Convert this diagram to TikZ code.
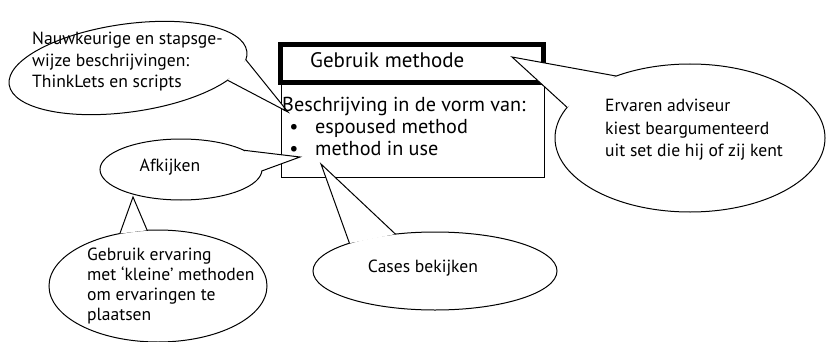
\documentclass[tikz,border=0pt]{standalone}
\usepackage{fontspec}
\setmainfont{PT Sans}
\usetikzlibrary{shapes.geometric}
\begin{document}
\begin{tikzpicture}[x=1pt,y=-1pt,
	bubble/.style={ellipse,draw,fill=white,line width=1pt,inner sep=0pt,outer sep=0pt},
	tail/.style={line width=1pt},
	bubbletext/.style={inner sep=0pt,align=left,anchor=north west,font=\fontsize{17.6}{21.5}\selectfont},
	boxtext/.style={inner sep=0pt,anchor=base west,font=\fontsize{20.2}{23}\selectfont}]
	\useasboundingbox (0,0) rectangle (826,342);
	% methode box
	\draw[line width=1pt] (281,83) rectangle (544,177);
	\draw[line width=5pt] (280,45) rectangle (543,83);
	% bubbles
	\node[bubble,rotate=8,minimum width=240pt,minimum height=88pt] (nauw) at (128,68) {};
	\node[bubble,minimum width=162pt,minimum height=61pt] (afkijken) at (181,169.5) {};
	\node[bubble,minimum width=218pt,minimum height=112pt] (ervaring) at (158,286) {};
	\node[bubble,minimum width=244pt,minimum height=78pt] (cases) at (435,271) {};
	\node[bubble,minimum width=270pt,minimum height=148pt] (adviseur) at (690,138) {};
	\coordinate (Tnauw) at (288,112);
	\coordinate (Tafkijken) at (300,157);
	\coordinate (Tervaring) at (133,197);
	\coordinate (Tcases) at (321,164);
	\coordinate (Tadviseur) at (512,57);
	\fill[white] (nauw.-4.6) -- (Tnauw) -- (nauw.-15.2) -- cycle;
	\draw[tail] (nauw.-4.6) -- (Tnauw) -- (nauw.-15.2);
	\fill[white] (afkijken.17) -- (Tafkijken) -- (afkijken.-1) -- cycle;
	\draw[tail] (afkijken.17) -- (Tafkijken) -- (afkijken.-1);
	\fill[white] (ervaring.126.3) -- (Tervaring) -- (ervaring.101.1) -- cycle;
	\draw[tail] (ervaring.126.3) -- (Tervaring) -- (ervaring.101.1);
	\fill[white] (cases.162) -- (Tcases) -- (cases.137.2) -- cycle;
	\draw[tail] (cases.162) -- (Tcases) -- (cases.137.2);
	\fill[white] (adviseur.140.7) -- (Tadviseur) -- (adviseur.166.3) -- cycle;
	\draw[tail] (adviseur.140.7) -- (Tadviseur) -- (adviseur.166.3);
	% texts
	\node[boxtext,font=\fontsize{21}{23}\selectfont] (titel) at (310,68) {Gebruik methode};
	\node[boxtext] (vorm) at (282,111) {Beschrijving in de vorm van:};
	\node[boxtext,anchor=base] (bul1) at (294,133) {\textbullet};
	\node[boxtext] (espoused) at (315,133) {espoused method};
	\node[boxtext,anchor=base] (bul2) at (294,155) {\textbullet};
	\node[boxtext] (inuse) at (315,155) {method in use};
	\node[bubbletext] (nauwtxt) at (32,32) {Nauwkeurige en stapsge-\\wijze beschrijvingen:\\ThinkLets en scripts};
	\node[bubbletext,anchor=center] (afkijkentxt) at (170,167) {Afkijken};
	\node[bubbletext,font=\fontsize{17.6}{20}\selectfont] (ervaringtxt) at (87,248) {Gebruik ervaring\\met ‘kleine’ methoden\\om ervaringen te\\plaatsen};
	\node[bubbletext,anchor=center] (casestxt) at (423,268) {Cases bekijken};
	\node[bubbletext,font=\fontsize{17.6}{22.5}\selectfont] (adviseurtxt) at (605,99) {Ervaren adviseur\\kiest beargumenteerd\\uit set die hij of zij kent};
\end{tikzpicture}
\end{document}
